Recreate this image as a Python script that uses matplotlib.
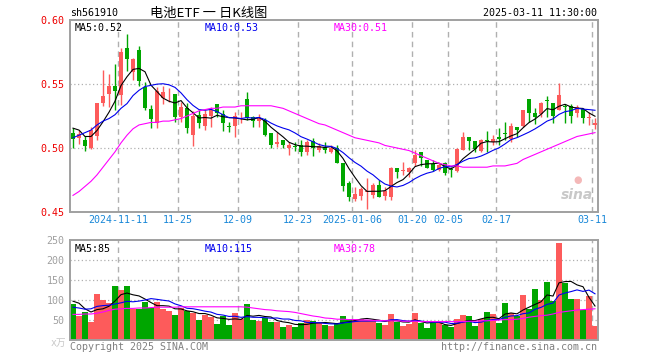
import matplotlib
matplotlib.use('Agg')
import matplotlib.pyplot as plt
import numpy as np
import pandas as pd

# ---------------- data ----------------
opens = [0.512, 0.508, 0.5063, 0.500, 0.5096, 0.5349, 0.5422, 0.5484, 0.5414, 0.5784,
         0.5590, 0.5766, 0.548, 0.5302, 0.5193, 0.5393, 0.5396, 0.542, 0.5245, 0.531,
         0.5102, 0.5258, 0.5174, 0.525, 0.5341, 0.5266, 0.5167, 0.5174, 0.5255, 0.5383,
         0.5245, 0.5211, 0.5219, 0.512, 0.5029, 0.5063, 0.4998, 0.5011, 0.5024, 0.4966,
         0.5055, 0.4985, 0.501, 0.4966, 0.4998, 0.4886, 0.473, 0.4599, 0.4625, 0.4659,
         0.4633, 0.4711, 0.4625, 0.462, 0.4846, 0.4822, 0.4815, 0.488, 0.4969, 0.4909,
         0.4875, 0.4831, 0.4886, 0.4833, 0.482, 0.4984, 0.5089, 0.5057, 0.498, 0.5059,
         0.5049, 0.5089, 0.5112, 0.5068, 0.5167, 0.5172, 0.5383, 0.5276, 0.5263, 0.5372,
         0.5349, 0.5297, 0.5325, 0.5328, 0.527, 0.5302, 0.5235, 0.518]
highs = [0.5154, 0.514, 0.5097, 0.5167, 0.535, 0.5612, 0.558, 0.566, 0.5779, 0.589,
         0.570, 0.5797, 0.5518, 0.5336, 0.548, 0.5487, 0.547, 0.5422, 0.5357, 0.535,
         0.529, 0.5297, 0.5297, 0.5323, 0.5341, 0.5297, 0.5206, 0.5284, 0.5284, 0.544,
         0.525, 0.5263, 0.5232, 0.512, 0.5128, 0.5063, 0.505, 0.505, 0.5063, 0.5063,
         0.5081, 0.5037, 0.5044, 0.5024, 0.5024, 0.4886, 0.4745, 0.4693, 0.4698, 0.4763,
         0.4724, 0.475, 0.4693, 0.4854, 0.4846, 0.4893, 0.4854, 0.4982, 0.4969, 0.4909,
         0.4909, 0.4886, 0.4893, 0.4854, 0.5003, 0.5128, 0.5089, 0.5057, 0.5068, 0.5133,
         0.5102, 0.5159, 0.5206, 0.5198, 0.5167, 0.5297, 0.5383, 0.531, 0.5359, 0.5409,
         0.5349, 0.5505, 0.534, 0.534, 0.5336, 0.5302, 0.5284, 0.5232]
lows = [0.4997, 0.503, 0.4977, 0.4995, 0.5063, 0.533, 0.532, 0.530, 0.5336, 0.560,
        0.553, 0.5484, 0.5297, 0.5154, 0.5154, 0.534, 0.5357, 0.5206, 0.5206, 0.512,
        0.5017, 0.5154, 0.514, 0.5167, 0.5245, 0.5133, 0.5128, 0.5089, 0.5193, 0.5219,
        0.5167, 0.5167, 0.5096, 0.4998, 0.501, 0.4998, 0.4945, 0.4977, 0.494, 0.4945,
        0.494, 0.4972, 0.4958, 0.4958, 0.488, 0.4664, 0.4589, 0.4589, 0.4594, 0.4524,
        0.4612, 0.462, 0.4594, 0.4594, 0.4768, 0.479, 0.4776, 0.486, 0.486, 0.4841,
        0.4818, 0.4818, 0.4789, 0.4771, 0.4815, 0.4984, 0.4984, 0.4971, 0.4971, 0.4971,
        0.5023, 0.5023, 0.5065, 0.505, 0.5083, 0.5167, 0.5206, 0.5185, 0.5245, 0.524,
        0.5198, 0.5297, 0.5193, 0.5193, 0.524, 0.5193, 0.518, 0.5146]
closes = [0.507, 0.511, 0.5016, 0.514, 0.5349, 0.5409, 0.5484, 0.5445, 0.5753, 0.5693,
          0.5695, 0.5523, 0.5315, 0.5227, 0.5445, 0.544, 0.5400, 0.5245, 0.5323, 0.516,
          0.525, 0.5193, 0.5266, 0.5297, 0.5271, 0.5193, 0.5164, 0.525, 0.5258, 0.5237,
          0.5211, 0.5237, 0.5102, 0.5024, 0.505, 0.5024, 0.5024, 0.5008, 0.4966, 0.505,
          0.5003, 0.5018, 0.4985, 0.4998, 0.4886, 0.4706, 0.462, 0.4641, 0.4677, 0.4661,
          0.4711, 0.462, 0.4664, 0.4841, 0.4815, 0.4825, 0.4846, 0.4945, 0.4919, 0.4846,
          0.4831, 0.487, 0.4807, 0.4829, 0.499, 0.5085, 0.5057, 0.4992, 0.5062, 0.5055,
          0.507, 0.5068, 0.5108, 0.5172, 0.5141, 0.5297, 0.5276, 0.5245, 0.5354, 0.5368,
          0.525, 0.5414, 0.5321, 0.525, 0.5323, 0.5237, 0.5238, 0.5193]
volumes = [90, 60, 70, 45, 115, 100, 92, 135, 125, 135,
           78, 78, 96, 81, 96, 78, 72.5, 62.5, 79, 72.5,
           66.7, 50, 62.5, 58, 40, 60, 37.5, 68, 52, 90,
           50, 47.5, 54, 46, 46, 33, 37.5, 33, 42, 50,
           47.5, 42, 37.5, 35, 42, 60, 53, 53, 53, 50,
           50, 42, 37.5, 65, 46, 35, 40, 66.7, 42, 29,
           42, 42, 37.5, 31.7, 53, 62.5, 60, 35, 53, 71,
           65, 42, 93, 67, 60, 112.5, 77.5, 127.5, 100, 146,
           98, 243, 143, 102.5, 102.5, 75, 110, 35]

# moving averages whose windows start before the first visible day
ma5_head = [0.5155, 0.514, 0.509, 0.509]
ma10_head = [0.508, 0.510, 0.512, 0.514, 0.518, 0.521, 0.523, 0.526, 0.531]
ma30_price = [0.463, 0.466, 0.470, 0.474, 0.479, 0.485, 0.491, 0.497, 0.504, 0.510,
              0.515, 0.518, 0.519, 0.520, 0.520, 0.521, 0.521, 0.522, 0.523, 0.525,
              0.527, 0.529, 0.530, 0.531, 0.531, 0.532, 0.532, 0.532, 0.533, 0.533,
              0.533, 0.533, 0.533, 0.533, 0.532, 0.531, 0.529, 0.527, 0.525, 0.523,
              0.521, 0.519, 0.518, 0.516, 0.514, 0.512, 0.510, 0.508, 0.507, 0.506,
              0.505, 0.504, 0.502, 0.501, 0.500, 0.499, 0.498, 0.496, 0.494, 0.492,
              0.490, 0.488, 0.487, 0.486, 0.486, 0.485, 0.485, 0.485, 0.485, 0.485,
              0.486, 0.486, 0.486, 0.487, 0.488, 0.491, 0.493, 0.495, 0.497, 0.499,
              0.501, 0.503, 0.505, 0.507, 0.509, 0.510, 0.511, 0.512]
vma5_head = [97, 92, 78, 70]
vma10_head = [82, 80, 77, 78, 84, 86, 87, 90, 93]
vma30 = [64, 64, 65, 65, 67, 70, 74, 77, 78, 79,
         79, 80, 80, 81, 82, 82, 82, 82, 83, 83,
         83, 83, 83, 83, 83, 83, 83, 83, 83, 82,
         80, 78, 76, 75, 73, 72, 71, 69, 66, 63,
         60, 58, 55, 54, 52, 52, 51, 51, 50, 50,
         49, 49, 48, 48, 48, 47, 47, 47, 46, 46,
         46, 46, 46, 46, 46, 46, 47, 47, 48, 48,
         49, 50, 51, 51, 52, 54, 57, 59, 61, 62,
         65, 69, 71, 73, 75, 76, 77, 78]

date_idx = [8, 18, 28, 38, 47, 57, 63, 71, 87]
date_labels = ['2024-11-11', '11-25', '12-09', '12-23', '2025-01-06',
               '01-20', '02-05', '02-17', '03-11']
price_ticks = [0.45, 0.50, 0.55, 0.60]
price_tick_labels = ['0.45', '0.50', '0.55', '0.60']
vol_ticks = [50, 100, 150, 200, 250]
vol_tick_labels = ['50', '100', '150', '200', '250']

# ---------------- derived ----------------
n = len(closes)
x = np.arange(n)
o = np.array(opens); c = np.array(closes); h = np.array(highs); l = np.array(lows)
v = np.array(volumes)
ma5 = pd.Series(c).rolling(5).mean().to_numpy()
ma5[:4] = ma5_head
ma10 = pd.Series(c).rolling(10).mean().to_numpy()
ma10[:9] = ma10_head
vma5 = pd.Series(v).rolling(5).mean().to_numpy()
vma5[:4] = vma5_head
vma10 = pd.Series(v).rolling(10).mean().to_numpy()
vma10[:9] = vma10_head

RED = '#fd5b5b'
GREEN = '#00a600'
up = c >= o
cols = np.where(up, RED, GREEN)

MONO = 'DejaVu Sans Mono'
W, H = 660, 360
fig = plt.figure(figsize=(6.6, 3.6), dpi=100)


def rect(left, top, right, bottom):
    return [left / W, 1 - bottom / H, (right - left) / W, (bottom - top) / H]


ax = fig.add_axes(rect(70, 20, 598, 212))
axv = fig.add_axes(rect(70, 240, 598, 340))

for a in (ax, axv):
    a.set_xlim(-0.5, n - 0.5)
    for s in a.spines.values():
        s.set_color('#a0a0a0')
        s.set_linewidth(1.4)
    for d in date_idx:
        a.axvline(d - 0.5, color='#b0b0b0', lw=1, ls=(0, (4, 3)), zorder=0)

# price panel
ax.set_ylim(0.45, 0.60)
for yv in [0.50, 0.55]:
    ax.axhline(yv, color='#b0b0b0', lw=0.9, ls=(0, (1, 2)), zorder=0)
ax.vlines(x, l, h, colors=cols, lw=1.0, zorder=2)
body_h = np.maximum(np.abs(c - o), 0.0006)
ax.bar(x, body_h, bottom=np.minimum(o, c), width=0.78, color=cols, zorder=3, linewidth=0)
ax.plot(x, ma5, color='black', lw=0.8, zorder=4)
ax.plot(x, ma10, color='#0000ee', lw=0.8, zorder=4)
ax.plot(x, ma30_price, color='#ff00ff', lw=0.8, zorder=4)
ax.set_yticks(price_ticks)
ax.set_yticklabels(price_tick_labels, family=MONO, fontsize=7.2, color='#ee0000')
ax.set_xticks([d - 0.5 for d in date_idx])
ax.set_xticklabels(date_labels, family=MONO, fontsize=7.2, color='#1a88d8')
ax.tick_params(axis='y', length=0, pad=4)
ax.tick_params(axis='x', length=0, pad=2)

ax.text(0.008, 0.985, 'MA5:0.52', transform=ax.transAxes, family=MONO, fontsize=7.2,
        color='black', va='top', ha='left')
ax.text(135 / 528, 0.985, 'MA10:0.53', transform=ax.transAxes, family=MONO, fontsize=7.2,
        color='#0000ee', va='top', ha='left')
ax.text(264 / 528, 0.985, 'MA30:0.51', transform=ax.transAxes, family=MONO, fontsize=7.2,
        color='#ff00ff', va='top', ha='left')
ax.text(0.99, 0.05, 'sina', transform=ax.transAxes, family='DejaVu Sans', fontsize=10,
        fontweight='bold', style='italic', color='#c8c8c8', ha='right', va='bottom', zorder=1)
ax.text(0.962, 0.14, '\u25CF', transform=ax.transAxes, fontsize=7, color='#f4b8b8',
        ha='center', va='bottom', zorder=1)

# volume panel
axv.set_ylim(0, 250)
for yv in [50, 100, 150, 200]:
    axv.axhline(yv, color='#b0b0b0', lw=0.9, ls=(0, (1, 2)), zorder=0)
axv.bar(x, v, width=0.85, color=cols, linewidth=0, zorder=2)
axv.plot(x, vma5, color='black', lw=0.8, zorder=4)
axv.plot(x, vma10, color='#0000ee', lw=0.8, zorder=4)
axv.plot(x, vma30, color='#ff00ff', lw=0.8, zorder=4)
axv.set_yticks(vol_ticks)
axv.set_yticklabels(vol_tick_labels, family=MONO, fontsize=7.2, color='#a0a0a0')
axv.set_xticks([])
axv.tick_params(length=0, pad=4)
axv.text(0.008, 0.96, 'MA5:85', transform=axv.transAxes, family=MONO, fontsize=7.2,
         color='black', va='top', ha='left')
axv.text(135 / 528, 0.96, 'MA10:115', transform=axv.transAxes, family=MONO, fontsize=7.2,
         color='#0000ee', va='top', ha='left')
axv.text(264 / 528, 0.96, 'MA30:78', transform=axv.transAxes, family=MONO, fontsize=7.2,
         color='#ff00ff', va='top', ha='left')

# header / footer texts
fig.text(70 / W, 1 - 13 / H, 'sh561910', family=MONO, fontsize=7.2, color='black',
         ha='left', va='center')
fig.text(209 / W, 1 - 13 / H, '电池ETF 一 日K线图', family=['Noto Sans CJK SC', 'DejaVu Sans'],
         fontsize=9.5, color='black', ha='center', va='center')
fig.text(597 / W, 1 - 13 / H, '2025-03-11 11:30:00', family=MONO, fontsize=7.2,
         color='black', ha='right', va='center')
fig.text(70 / W, 1 - 347 / H, 'Copyright 2025 SINA.COM', family=MONO, fontsize=7.2,
         color='#808080', ha='left', va='center')
fig.text(597 / W, 1 - 347 / H, 'http://finance.sina.com.cn', family=MONO, fontsize=7.2,
         color='#808080', ha='right', va='center')
fig.text(66 / W, 1 - 343 / H, 'x万', family=[MONO, 'Noto Sans CJK SC'], fontsize=7,
         color='#c8c8c8', ha='right', va='center')

fig.savefig('out.png', dpi=100, facecolor='white')
